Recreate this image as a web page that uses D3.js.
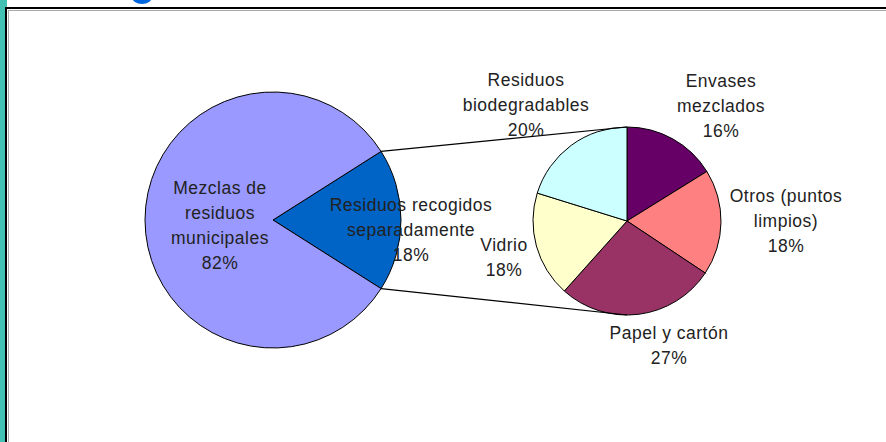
<!DOCTYPE html>
<html>
<head>
<meta charset="utf-8">
<script src="https://cdn.jsdelivr.net/npm/d3@7"></script>
<style>
  html, body { margin: 0; padding: 0; background: #ffffff; }
  svg { display: block; }
  text { font-family: "Liberation Sans", Arial, sans-serif; }
</style>
</head>
<body>
<svg id="chart" width="886" height="442"></svg>
<script>
// ---- Data ----
const mainCategories = ["Residuos recogidos separadamente", "Mezclas de residuos municipales"];
const mainValues = [18, 82];
const mainLabelLines = [["Residuos recogidos", "separadamente"], ["Mezclas de", "residuos", "municipales"]];
const mainColors = ["#0063C6", "#9999FF"];

const subCategories = ["Envases mezclados", "Otros (puntos limpios)", "Papel y cartón", "Vidrio", "Residuos biodegradables"];
const subValues = [16, 18, 27, 18, 20];
const subLabelLines = [["Envases", "mezclados"], ["Otros (puntos", "limpios)"], ["Papel y cartón"], ["Vidrio"], ["Residuos", "biodegradables"]];
const subColors = ["#660066", "#FF8080", "#993366", "#FFFFCC", "#CCFFFF"];

// ---- Layout ----
const W = 886, H = 442;
const mainC = { x: 273, y: 220, r: 128 };
const subC = { x: 627, y: 221, r: 94 };
// label block centre offsets from each pie centre
const mainLabelOffsets = [[138, 10], [-53, 5]];
const subLabelOffsets = [[94, -115], [159, 0], [42, 124], [-123, 36], [-101, -116]];
const lineGap = 25;

const svg = d3.select("#chart");

// background slide pieces
svg.append("rect").attr("x", 0).attr("y", 0).attr("width", W).attr("height", H).attr("fill", "#ffffff");
svg.append("rect").attr("x", 0).attr("y", 0).attr("width", 5).attr("height", H).attr("fill", "#43C1B2");
svg.append("rect").attr("x", 0).attr("y", 0).attr("width", 7).attr("height", 8).attr("fill", "#43C1B2");
// fragment of the slide title lying above the picture's edge
svg.append("ellipse").attr("cx", 142).attr("cy", -3).attr("rx", 10).attr("ry", 7).attr("fill", "#0066DD");
// chart frame
svg.append("rect").attr("x", 6).attr("y", 8).attr("width", W).attr("height", H)
  .attr("fill", "#ffffff").attr("stroke", "#000").attr("stroke-width", 2);
svg.append("line").attr("x1", 8).attr("x2", W).attr("y1", 10.5).attr("y2", 10.5).attr("stroke", "#aaa").attr("stroke-width", 1);
svg.append("line").attr("x1", 8.5).attr("x2", 8.5).attr("y1", 10).attr("y2", H).attr("stroke", "#aaa").attr("stroke-width", 1);

// ---- Main pie ----
const mainTotal = d3.sum(mainValues);
const smallSpan = mainValues[0] / mainTotal * 2 * Math.PI;
const mainStart = Math.PI / 2 - smallSpan / 2;
const mainPie = d3.pie().sort(null).startAngle(mainStart).endAngle(mainStart + 2 * Math.PI);
const mainArcs = mainPie(mainValues);
const mainArc = d3.arc().innerRadius(0).outerRadius(mainC.r);

const gMain = svg.append("g").attr("transform", `translate(${mainC.x},${mainC.y})`);
gMain.selectAll("path").data(mainArcs).join("path")
  .attr("d", mainArc)
  .attr("fill", (d, i) => mainColors[i])
  .attr("stroke", "#000").attr("stroke-width", 1).attr("stroke-linejoin", "round");

// ---- Sub pie ----
const subPie = d3.pie().sort(null).startAngle(0).endAngle(2 * Math.PI);
const subArcs = subPie(subValues);
const subArc = d3.arc().innerRadius(0).outerRadius(subC.r);
const gSub = svg.append("g").attr("transform", `translate(${subC.x},${subC.y})`);
gSub.selectAll("path").data(subArcs).join("path")
  .attr("d", subArc)
  .attr("fill", (d, i) => subColors[i])
  .attr("stroke", "#000").attr("stroke-width", 1).attr("stroke-linejoin", "round");

// ---- Connector lines ----
const a0 = mainArcs[0].startAngle, a1 = mainArcs[0].endAngle;
const pTop = [mainC.x + mainC.r * Math.sin(a0), mainC.y - mainC.r * Math.cos(a0)];
const pBot = [mainC.x + mainC.r * Math.sin(a1), mainC.y - mainC.r * Math.cos(a1)];
svg.append("line").attr("x1", pTop[0]).attr("y1", pTop[1]).attr("x2", subC.x).attr("y2", subC.y - subC.r)
  .attr("stroke", "#000").attr("stroke-width", 1.2);
svg.append("line").attr("x1", pBot[0]).attr("y1", pBot[1]).attr("x2", subC.x).attr("y2", subC.y + subC.r)
  .attr("stroke", "#000").attr("stroke-width", 1.2);

// ---- Labels ----
function drawLabel(cx, cy, lines) {
  const n = lines.length;
  const t = svg.append("text").attr("text-anchor", "middle")
    .attr("font-size", 17.5).attr("fill", "#222").attr("letter-spacing", 0.5);
  lines.forEach((s, k) => {
    t.append("tspan").attr("x", cx).attr("y", cy + (k - (n - 1) / 2) * lineGap).attr("dy", "0.35em").text(s);
  });
}
const pct = (v, tot) => Math.round(v / tot * 100) + "%";
mainArcs.forEach((d, i) => {
  drawLabel(mainC.x + mainLabelOffsets[i][0], mainC.y + mainLabelOffsets[i][1],
    mainLabelLines[i].concat([pct(mainValues[i], mainTotal)]));
});
subArcs.forEach((d, i) => {
  drawLabel(subC.x + subLabelOffsets[i][0], subC.y + subLabelOffsets[i][1],
    subLabelLines[i].concat([subValues[i] + "%"]));
});
</script>
</body>
</html>
